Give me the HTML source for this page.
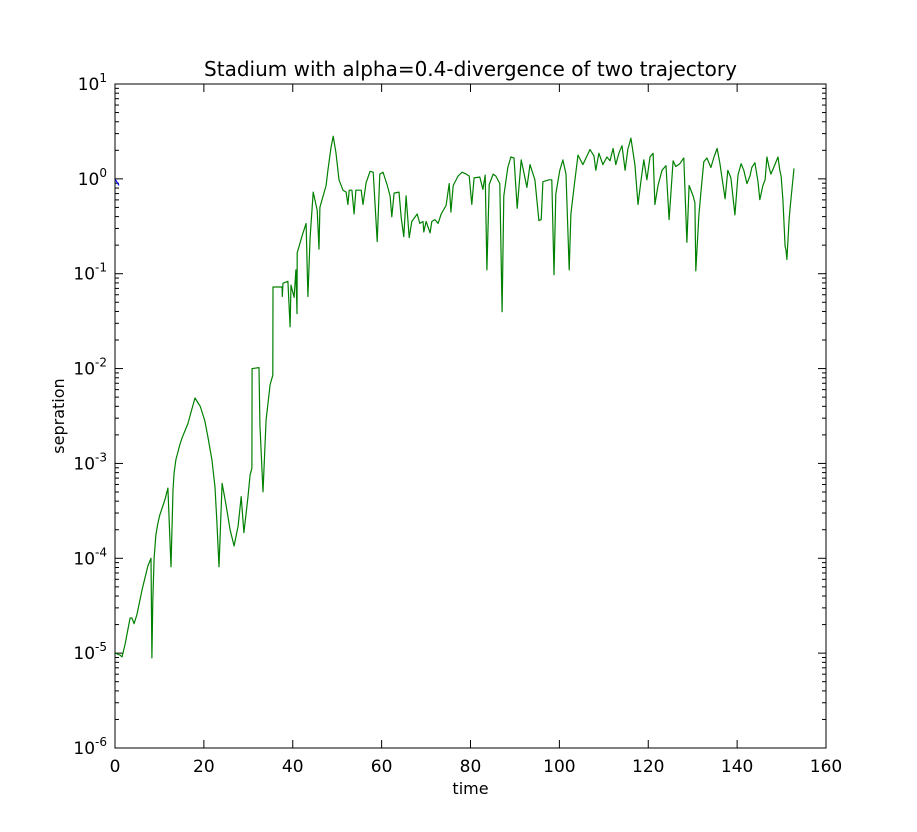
<!DOCTYPE html>
<html><head><meta charset="utf-8"><style>
html,body{margin:0;padding:0;background:#fff;}
svg{display:block;font-family:"DejaVu Sans","Liberation Sans",sans-serif;}
</style></head><body>
<svg id="chart" width="917" height="832"></svg>
<script>
const timeVals=[0,1.1,1.6,2.25,3.4,3.8,4.3,4.95,6.1,7.4,8.1,8.3,8.5,8.8,9.2,9.7,10.1,11.25,11.9,12.6,13.05,13.3,13.7,14.6,15.1,16.4,17.0,18.0,19.2,20.2,20.9,21.8,22.5,22.9,23.4,24.1,25.0,25.9,26.8,27.7,28.4,29.0,29.9,30.4,30.8,30.85,32.4,32.6,33.3,34.0,34.9,35.5,35.55,37.6,37.65,37.8,38.9,39.4,39.6,40.3,40.7,40.95,41.0,42.1,43.0,43.4,43.9,44.6,45.5,45.9,46.1,47.5,47.9,48.6,49.1,49.7,50.4,51.3,52.0,52.4,52.7,53.3,53.8,54.2,55.4,55.8,56.5,57.4,58.1,59.0,59.6,60.3,61.2,61.9,62.3,62.8,63.9,64.4,65.0,65.5,66.2,66.8,68.0,68.6,69.3,69.5,70.0,70.9,71.3,72.0,72.7,73.4,74.5,75.2,75.6,76.1,77.2,78.1,79.0,79.7,80.3,80.8,82.1,82.8,83.3,83.7,84.2,85.1,85.7,86.6,87.1,87.5,88.4,89.1,89.8,90.5,91.4,92.0,92.7,93.4,94.5,95.4,95.9,96.3,97.7,98.3,98.8,99.2,100.1,100.8,101.5,101.9,102.2,102.6,103.3,104.2,105.3,106.0,106.9,107.8,108.2,108.9,109.8,110.7,111.4,112.1,112.7,113.4,114.1,114.8,115.4,116.1,117.0,117.7,118.4,119.0,119.7,120.4,121.1,121.5,122.2,123.1,124.0,124.7,125.6,126.2,127.1,128.0,128.7,129.2,130.1,130.5,130.7,131.4,131.9,132.5,133.2,134.1,134.8,135.5,136.1,136.6,137.3,137.9,138.6,139.5,140.2,140.9,141.5,142.2,142.9,143.3,144.0,144.7,145.1,145.8,146.3,146.7,147.2,147.6,148.5,149.2,149.6,149.9,150.3,150.8,151.0,151.2,151.7,152.1,152.8];
const sepExp=[-5.00,-5.02,-5.04,-4.91,-4.63,-4.63,-4.69,-4.59,-4.33,-4.08,-4.00,-5.05,-4.45,-4.00,-3.75,-3.62,-3.54,-3.38,-3.26,-4.09,-3.28,-3.10,-2.96,-2.80,-2.73,-2.58,-2.48,-2.31,-2.40,-2.55,-2.72,-2.96,-3.25,-3.60,-4.09,-3.21,-3.44,-3.70,-3.87,-3.66,-3.35,-3.73,-3.36,-3.12,-3.05,-2.00,-1.99,-2.59,-3.30,-2.54,-2.17,-2.07,-1.14,-1.14,-1.24,-1.10,-1.08,-1.56,-1.12,-1.25,-0.96,-1.42,-0.78,-0.60,-0.47,-1.24,-0.62,-0.14,-0.33,-0.74,-0.30,-0.07,0.09,0.33,0.45,0.28,-0.01,-0.12,-0.14,-0.27,-0.12,-0.12,-0.37,-0.12,-0.12,-0.27,-0.04,0.08,0.07,-0.66,0.05,0.07,-0.06,-0.18,-0.40,-0.15,-0.14,-0.41,-0.61,-0.18,-0.62,-0.45,-0.37,-0.47,-0.45,-0.56,-0.45,-0.57,-0.45,-0.43,-0.47,-0.37,-0.28,-0.05,-0.35,-0.07,0.03,0.07,0.05,0.03,-0.27,0.01,0.02,-0.11,0.04,-0.96,-0.06,0.05,0.03,-0.05,-1.40,-0.18,0.12,0.23,0.22,-0.31,0.20,0.07,-0.09,0.15,-0.01,-0.44,-0.43,-0.03,-0.01,-0.01,-1.01,-0.16,0.09,0.20,0.05,-0.52,-0.96,-0.37,-0.09,0.25,0.15,0.22,0.31,0.24,0.09,0.27,0.15,0.23,0.19,0.32,0.15,0.27,0.35,0.09,0.31,0.43,0.15,-0.27,-0.01,0.20,-0.01,0.23,0.27,-0.27,-0.07,0.09,0.14,-0.43,0.19,0.13,0.16,0.22,-0.67,-0.07,-0.18,-0.25,-0.97,-0.38,-0.12,0.18,0.22,0.12,0.23,0.32,0.17,0.01,-0.21,0.09,0.01,-0.38,0.04,0.16,0.09,-0.05,0.03,0.12,0.17,-0.03,-0.22,-0.07,-0.01,0.23,0.12,0.05,0.15,0.23,0.09,0.03,-0.22,-0.71,-0.75,-0.85,-0.43,-0.22,0.11];
const blueTime=[0,0.9];
const blueExp=[0,-0.07];
const xTicks=[0,20,40,60,80,100,120,140,160];
const yTickExps=[1,0,-1,-2,-3,-4,-5,-6];

const L=115,R=826,T=84,B=748;
const xS=t=>L+(t-0)/160*(R-L);
const yS=e=>T+(1-e)/7*(B-T);
const NS="http://www.w3.org/2000/svg";
const svg=document.getElementById('chart');
function mk(tag,attrs,parent){const el=document.createElementNS(NS,tag);for(const k in attrs)el.setAttribute(k,attrs[k]);(parent||svg).appendChild(el);return el;}

const ticks=mk('g',{stroke:'#000','stroke-width':1});


xTicks.forEach(v=>{const x=xS(v);
 mk('line',{x1:x,x2:x,y1:B,y2:B-8},ticks);mk('line',{x1:x,x2:x,y1:T,y2:T+8},ticks);
 const tx=mk('text',{x:x,y:B+24,'font-size':17,'text-anchor':'middle',fill:'#000',stroke:'none'});
 
 
 tx.textContent=v;});
yTickExps.forEach(e=>{const y=yS(e);
 mk('line',{x1:L,x2:L+8,y1:y,y2:y},ticks);mk('line',{x1:R,x2:R-8,y1:y,y2:y},ticks);
 if(e>-6){for(let m=2;m<=9;m++){const yy=yS(e-1+Math.log10(m));
  mk('line',{x1:L,x2:L+4,y1:yy,y2:yy},ticks);mk('line',{x1:R,x2:R-4,y1:yy,y2:yy},ticks);}}
 const tx=mk('text',{x:L-8,y:y+6,'font-size':17,'text-anchor':'end',fill:'#000',stroke:'none'});
 
 
 const a=mk('tspan',{},tx);a.textContent='10';
 const b=mk('tspan',{dy:-8,'font-size':12},tx);b.textContent=String(e);
});

const pts=timeVals.map((t,i)=>xS(t).toFixed(1)+','+yS(sepExp[i]).toFixed(1)).join(' ');
const line=mk('polyline',{points:pts,fill:'none',stroke:'#008000','stroke-width':1.2,'stroke-linejoin':'round'});


const bpts=blueTime.map((t,i)=>xS(t).toFixed(1)+','+yS(blueExp[i]).toFixed(1)).join(' ');
const bl=mk('polyline',{points:bpts,fill:'none',stroke:'#0000ff','stroke-width':1.2});



const fr=mk('rect',{x:L,y:T,width:R-L,height:B-T,fill:'none',stroke:'#000','stroke-width':1});



const title=mk('text',{x:(L+R)/2,y:76,'font-size':20,'text-anchor':'middle',fill:'#000'});


title.textContent='Stadium with alpha=0.4-divergence of two trajectory';
const xl=mk('text',{x:(L+R)/2,y:794,'font-size':16,'text-anchor':'middle',fill:'#000'});


xl.textContent='time';
const yl=mk('text',{x:0,y:0,'font-size':16,'text-anchor':'middle',fill:'#000',transform:'translate(64,416) rotate(-90)'});


yl.textContent='sepration';
</script>
</body></html>
